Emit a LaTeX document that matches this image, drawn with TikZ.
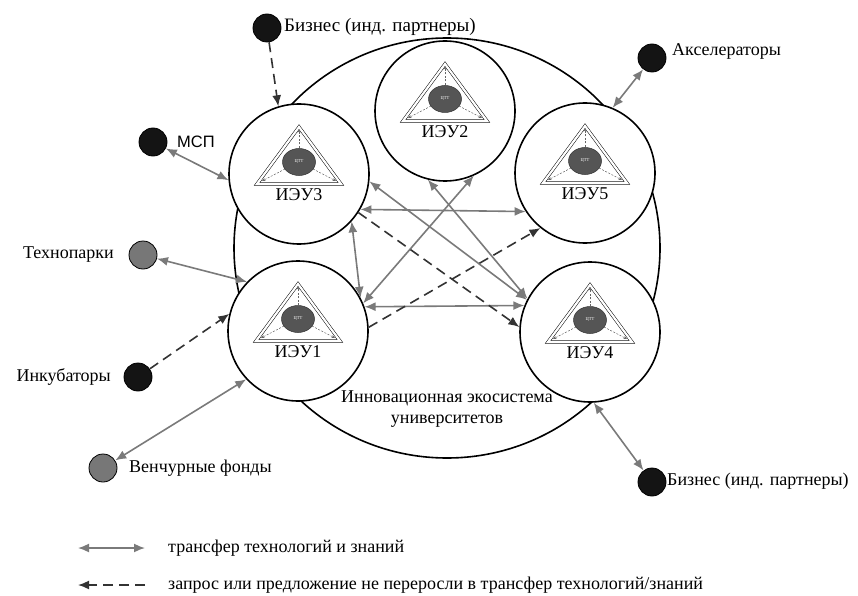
\documentclass[tikz,border=0pt]{standalone}
\usepackage{fontspec}
\setmainfont{Liberation Serif}
\newfontfamily\sansf{Liberation Sans}
\usetikzlibrary{arrows.meta,shapes.geometric}
\definecolor{arrowgray}{HTML}{7A7A7A}
\definecolor{darkline}{HTML}{333333}
\definecolor{dotgray}{HTML}{777777}
\definecolor{cttgray}{HTML}{555555}
\newcommand\ieuinner[3]{%
  \begin{scope}[shift={(#1.center)}]
    \draw[line width=0.5pt,double=white,double distance=2.2pt] (0,-47) -- (-42,10) -- (42,10) -- cycle;
    \draw[smallarr] (0,-26) -- (0,-45);
    \draw[smallarr] (-14,-5) -- (-37,7);
    \draw[smallarr] (14,-5) -- (37,7);
    \node[ctt] (#1c) at (0,-12) {ЦТТ};
    \node[lbl] (#1l) at (0,21) {#2};
  \end{scope}}
\begin{document}
\begin{tikzpicture}[x=1pt,y=-1pt,
  ieu/.style={circle,draw,line width=1.6pt,fill=white,minimum size=140pt,inner sep=0pt},
  dot/.style={circle,draw,line width=0.8pt,minimum size=28pt,inner sep=0pt},
  blackdot/.style={dot,fill=black!92},
  graydot/.style={dot,fill=dotgray},
  gar/.style={draw=arrowgray,line width=1.6pt,{Latex[length=11pt,width=9pt]}-{Latex[length=11pt,width=9pt]}},
  dar/.style={draw=darkline,line width=1.6pt,dash pattern=on 10pt off 6pt,-{Latex[length=11pt,width=9pt]}},
  lbl/.style={font=\fontsize{18}{21}\selectfont,inner sep=0pt},
  ctt/.style={ellipse,fill=cttgray,draw=black!80,line width=0.5pt,minimum width=33pt,minimum height=27pt,inner sep=0pt,text=white,font=\fontsize{4.5}{5}\selectfont},
  smallarr/.style={draw=black!60,line width=0.5pt,dash pattern=on 2pt off 1.5pt,-{Stealth[length=3.5pt,width=3pt]}},
]
\useasboundingbox (0,0) rectangle (858,596);
% ecosystem
\node[ellipse,draw,line width=1.6pt,minimum width=426pt,minimum height=420pt,inner sep=0pt] (eco) at (447,248) {};
% universities
\node[ieu] (n2) at (445,111) {};
\node[ieu] (n3) at (299,174) {};
\node[ieu] (n5) at (585,173) {};
\node[ieu] (n1) at (298,331) {};
\node[ieu] (n4) at (590,332) {};
\ieuinner{n1}{ИЭУ1}{}
\ieuinner{n2}{ИЭУ2}{}
\ieuinner{n3}{ИЭУ3}{}
\ieuinner{n4}{ИЭУ4}{}
\ieuinner{n5}{ИЭУ5}{}
\node[lbl,align=center] (ecol) at (447,409) {Инновационная экосистема\\университетов};
% external actors
\node[blackdot] (biz1) at (267,28) {};
\node[lbl,anchor=west,font=\fontsize{19}{22}\selectfont] (biz1l) at (284,27) {Бизнес (инд. партнеры)};
\node[blackdot] (msp) at (153,142) {};
\node[anchor=west,inner sep=0pt,font=\sansf\fontsize{16.5}{19}\selectfont] (mspl) at (177,142) {МСП};
\node[graydot] (tech) at (143,255) {};
\node[lbl,anchor=east] (techl) at (114,255) {Технопарки};
\node[blackdot] (inc) at (138,377) {};
\node[lbl,anchor=east] (incl) at (111,377) {Инкубаторы};
\node[graydot] (vent) at (103,468) {};
\node[lbl,anchor=west] (ventl) at (129,468) {Венчурные фонды};
\node[blackdot] (acc) at (652,58) {};
\node[lbl,anchor=west] (accl) at (672,51) {Акселераторы};
\node[blackdot] (biz2) at (652,482) {};
\node[lbl,anchor=west] (biz2l) at (667,481) {Бизнес (инд. партнеры)};
% external connectors
\draw[dar] (biz1) -- (n3.107);
\draw[gar] (msp) -- (n3.185);
\draw[gar] (tech) -- (n1.136);
\draw[dar] (inc) -- (n1.166);
\draw[gar] (vent) -- (n1.223);
\draw[gar] (acc) -- (n5.67);
\draw[gar] (biz2) -- (n4.-87);
% internal connectors
\draw[gar] (n3.-30) -- (n5.213);
\draw[gar] (n1.20) -- (n4.158);
\draw[gar] (n3.-42) -- (n1.28);
\draw[gar] (n3.-6) -- (n4.153);
\draw[gar] (n2.-104) -- (n4.152);
\draw[gar] (n2.-66) -- (n1.23);
\draw[dar] (n3.-33) -- (n4.176);
\draw[dar] (n1.3) -- (n5.231);
% legend
\coordinate (la1) at (78,548);
\coordinate (lb1) at (145,548);
\coordinate (la2) at (78,585);
\coordinate (lb2) at (145,585);
\draw[gar] (la1) -- (lb1);
\draw[dar] (lb2) -- (la2);
\node[lbl,anchor=west] (leg1) at (168,548) {трансфер технологий и знаний};
\node[lbl,anchor=west] (leg2) at (168,585) {запрос или предложение не переросли в трансфер технологий/знаний};
\end{tikzpicture}
\end{document}
